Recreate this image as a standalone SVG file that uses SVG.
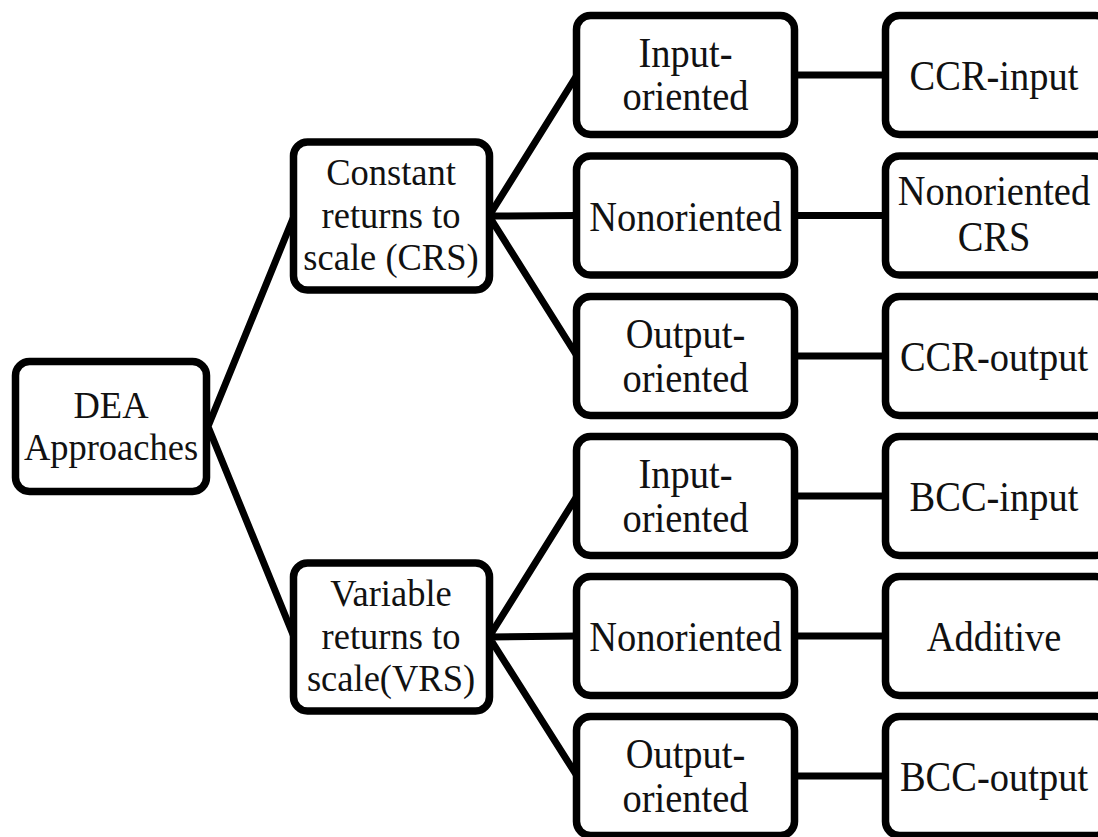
<svg xmlns="http://www.w3.org/2000/svg" width="1098" height="837" viewBox="0 0 1098 837">
  <style>
    .box { fill: #ffffff; stroke: #000000; stroke-width: 7.5; }
    .link { fill: none; stroke: #000000; stroke-width: 7; stroke-linecap: butt; }
    text { font-family: "Liberation Serif", "Times New Roman", serif; fill: #111111; text-anchor: middle; }
    .t1 { font-size: 36.5px; }
    .t2 { font-size: 38.5px; }
  </style>
  <rect width="1098" height="837" fill="#ffffff"/>

  <!-- connectors -->
  <g id="connectors">
    <path class="link" d="M208,426.5 L294,216 M208,426.5 L294,637"/>
    <path class="link" d="M489,216 L577,75 M489,216 L577,215.5 M489,216 L577,356"/>
    <path class="link" d="M489,637 L577,496 M489,637 L577,636 M489,637 L577,776"/>
    <path class="link" d="M794,75 H886 M794,215.5 H886 M794,356 H886 M794,496 H886 M794,636 H886 M794,776 H886"/>
  </g>

  <!-- root -->
  <g id="dea">
    <rect class="box" x="15.5" y="361.5" width="191" height="130" rx="14"/>
    <text class="t1" transform="translate(111,418) scale(1,1.05)">DEA</text>
    <text class="t1" transform="translate(111,460) scale(1,1.05)">Approaches</text>
  </g>

  <!-- returns to scale -->
  <g id="crs">
    <rect class="box" x="293.5" y="142" width="196" height="148" rx="14"/>
    <text class="t1" transform="translate(391,185) scale(1,1.05)">Constant</text>
    <text class="t1" transform="translate(391,228) scale(1,1.05)">returns to</text>
    <text class="t1" transform="translate(391,270) scale(1,1.05)">scale (CRS)</text>
  </g>
  <g id="vrs">
    <rect class="box" x="293.5" y="563" width="196" height="148" rx="14"/>
    <text class="t1" transform="translate(391,606) scale(1,1.05)">Variable</text>
    <text class="t1" transform="translate(391,649) scale(1,1.05)">returns to</text>
    <text class="t1" transform="translate(391,691) scale(1,1.05)">scale(VRS)</text>
  </g>

  <!-- orientation -->
  <g id="crs-input">
    <rect class="box" x="576.5" y="15.5" width="218" height="119" rx="14"/>
    <text class="t2" transform="translate(685.5,67) scale(1,1.12)">Input-</text>
    <text class="t2" transform="translate(685.5,110) scale(1,1.12)">oriented</text>
  </g>
  <g id="crs-non">
    <rect class="box" x="576.5" y="156" width="218" height="119" rx="14"/>
    <text class="t2" transform="translate(685.5,231) scale(1,1.12)">Nonoriented</text>
  </g>
  <g id="crs-output">
    <rect class="box" x="576.5" y="296.5" width="218" height="119" rx="14"/>
    <text class="t2" transform="translate(685.5,348) scale(1,1.12)">Output-</text>
    <text class="t2" transform="translate(685.5,392) scale(1,1.12)">oriented</text>
  </g>
  <g id="vrs-input">
    <rect class="box" x="576.5" y="436.5" width="218" height="119" rx="14"/>
    <text class="t2" transform="translate(685.5,488) scale(1,1.12)">Input-</text>
    <text class="t2" transform="translate(685.5,532) scale(1,1.12)">oriented</text>
  </g>
  <g id="vrs-non">
    <rect class="box" x="576.5" y="576.5" width="218" height="119" rx="14"/>
    <text class="t2" transform="translate(685.5,651) scale(1,1.12)">Nonoriented</text>
  </g>
  <g id="vrs-output">
    <rect class="box" x="576.5" y="716.5" width="218" height="119" rx="14"/>
    <text class="t2" transform="translate(685.5,768) scale(1,1.12)">Output-</text>
    <text class="t2" transform="translate(685.5,812) scale(1,1.12)">oriented</text>
  </g>

  <!-- models -->
  <g id="ccr-input">
    <rect class="box" x="885.5" y="15.5" width="224" height="119" rx="14"/>
    <text class="t2" transform="translate(994,90) scale(1,1.12)">CCR-input</text>
  </g>
  <g id="non-crs">
    <rect class="box" x="885.5" y="156" width="224" height="119" rx="14"/>
    <text class="t2" transform="translate(994,205) scale(1,1.12)">Nonoriented</text>
    <text class="t2" transform="translate(994,251) scale(1,1.12)">CRS</text>
  </g>
  <g id="ccr-output">
    <rect class="box" x="885.5" y="296.5" width="224" height="119" rx="14"/>
    <text class="t2" transform="translate(994,371) scale(1,1.12)">CCR-output</text>
  </g>
  <g id="bcc-input">
    <rect class="box" x="885.5" y="436.5" width="224" height="119" rx="14"/>
    <text class="t2" transform="translate(994,511) scale(1,1.12)">BCC-input</text>
  </g>
  <g id="additive">
    <rect class="box" x="885.5" y="576.5" width="224" height="119" rx="14"/>
    <text class="t2" transform="translate(994,651) scale(1,1.12)">Additive</text>
  </g>
  <g id="bcc-output">
    <rect class="box" x="885.5" y="716.5" width="224" height="119" rx="14"/>
    <text class="t2" transform="translate(994,791) scale(1,1.12)">BCC-output</text>
  </g>
</svg>
